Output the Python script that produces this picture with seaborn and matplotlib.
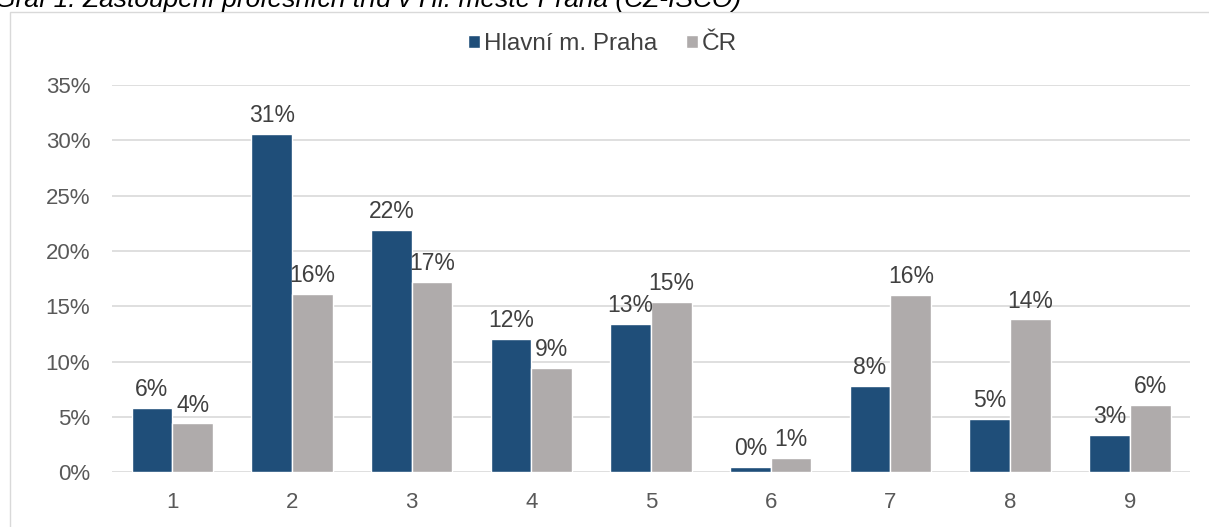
import pandas as pd
import matplotlib.pyplot as plt
import matplotlib.patches as patches
import seaborn as sns

# hodnoty (v %)
trida = ['1', '2', '3', '4', '5', '6', '7', '8', '9']
praha = [5.8, 30.6, 21.9, 12.0, 13.4, 0.45, 7.8, 4.8, 3.4]
cr = [4.4, 16.1, 17.2, 9.4, 15.4, 1.3, 16.0, 13.8, 6.1]
serie = ['Hlavní m. Praha', 'ČR']
barvy = ['#1F4E79', '#AFABAB']

df = pd.DataFrame({
    'trida': trida * 2,
    'podil': praha + cr,
    'oblast': [serie[0]] * len(trida) + [serie[1]] * len(trida),
})

sns.set_style('white')
plt.rcParams['font.family'] = ['Liberation Sans', 'DejaVu Sans']

fig = plt.figure(figsize=(12.09, 5.27), dpi=100)
ax = fig.add_axes([0.093, 0.104, 0.891, 0.735])

# rámeček grafu
fig.patches.append(patches.Rectangle((10 / 1209, -0.01), 1.1, 1 - 12 / 527 + 0.01,
                                     transform=fig.transFigure, fill=False,
                                     edgecolor='#D9D9D9', linewidth=1))
fig.text(-0.004, 1.0, 'Graf 1: Zastoupení profesních tříd v Hl. městě Praha (CZ-ISCO)',
         fontsize=19, style='italic', color='black', va='center', ha='left')

sns.barplot(data=df, x='trida', y='podil', hue='oblast', palette=barvy,
            width=0.68, gap=0, saturation=1, ax=ax)

for cont in ax.containers:
    ax.bar_label(cont, labels=[f'{v:.0f}%' for v in cont.datavalues],
                 padding=5, fontsize=16.5, color='#404040')

ax.set_ylim(0, 35)
ax.set_yticks(range(0, 36, 5))
ax.set_yticklabels([f'{t}%' for t in range(0, 36, 5)])
ax.yaxis.grid(True, color='#D9D9D9', linewidth=1.2)
ax.set_axisbelow(True)
for s in ax.spines.values():
    s.set_visible(False)
ax.tick_params(axis='both', length=0, labelsize=16, labelcolor='#595959')
ax.tick_params(axis='x', pad=14)
ax.tick_params(axis='y', pad=16)
ax.set_xlabel('')
ax.set_ylabel('')

ax.legend(loc='center', bbox_to_anchor=(0.455, 1.105), ncol=2, frameon=False,
          fontsize=17.5, handlelength=0.5, handleheight=0.5, handletextpad=0.15,
          columnspacing=1.2, labelcolor='#404040')

fig.savefig('out.png', dpi=100)
